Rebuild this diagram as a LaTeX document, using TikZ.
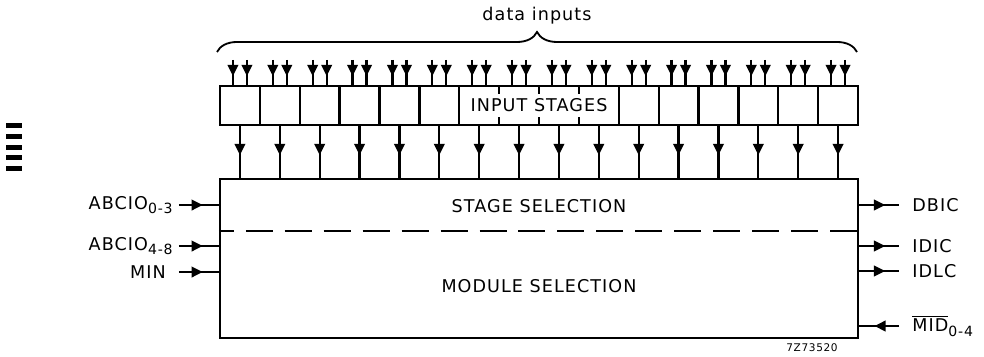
\documentclass[tikz,border=0pt]{standalone}
\usepackage{fontspec}
\setmainfont{DejaVu Sans}[LetterSpace=6]
\usetikzlibrary{arrows.meta,positioning,calc,decorations.markings,decorations.pathreplacing}
\newcommand{\lowsub}[1]{\raisebox{-0.5ex}{\fontsize{10}{11}\selectfont#1}}

\begin{document}
\begin{tikzpicture}[x=0.025cm,y=-0.025cm,>=Latex,line width=1.6pt]
  \tikzset{cell/.style={minimum width=0.997cm,minimum height=0.975cm,inner sep=0pt,outer sep=0pt},
    midarrow/.style={postaction={decorate},decoration={markings,
      mark=at position #1 with {\arrow{Triangle[length=8pt,width=7.5pt]}}}},
    lbl/.style={font=\fontsize{12.5}{14}\selectfont,inner sep=0pt}}
  \useasboundingbox (0,0) rectangle (984,356);
  % scan marks at the left margin
  \foreach \k in {0,...,4}
    \fill ({6},{123+10.8*\k}) rectangle ({22},{128+10.8*\k});
  % input stages
  \foreach \i in {1,...,16}
    \node[cell] (s\i) at ({220+39.875*(\i-0.5)},105.5) {};
  \foreach \i in {1,...,6,11,12,...,16}
    \draw (s\i.north west) rectangle (s\i.south east);
  \draw (s7.north west) rectangle (s10.south east);
  \foreach \i in {7,8,9} {
    \draw (s\i.north east) -- ++(0,8);
    \draw (s\i.south east) -- ++(0,-8);
  }
  \node[lbl,fill=white,inner sep=1pt] (stages) at (s8.east) {INPUT STAGES};
  % selection block
  \node[draw,minimum width=15.95cm,minimum height=3.975cm,inner sep=0pt] (sel) at (539,258.5) {};
  \coordinate (dl) at ($(sel.north west)+(0,53)$);
  \coordinate (dr) at ($(sel.north east)+(0,53)$);
  \draw[dash pattern=on 19.2pt off 8.5pt,dash phase=8.5pt] (dl) -- (dr);
  \node[lbl] (stagesel) at ($(sel.north)+(0,28)$) {STAGE SELECTION};
  \node[lbl] (modsel) at ($(sel.north)+(0,108)$) {MODULE SELECTION};
  % data inputs
  \foreach \i in {1,...,16} {
    \coordinate (ia\i) at ($(s\i.north)+(-7,-26)$);
    \coordinate (ib\i) at ($(s\i.north)+(7,-26)$);
    \draw[midarrow=0.62] (ia\i) -- (ia\i |- s\i.north);
    \draw[midarrow=0.62] (ib\i) -- (ib\i |- s\i.north);
    \draw[midarrow=0.57] (s\i.south) -- (s\i.south |- sel.north);
  }
  \coordinate (bl) at ($(s1.north west)+(-3,-34)$);
  \coordinate (br) at ($(s16.north east)+(-1,-34)$);
  \draw[line width=1.3pt,decorate,decoration={brace,amplitude=0.5cm}] (bl) -- (br);
  \node[lbl] (data) at ($(bl)!0.5!(br)+(0,-36)$) {data inputs};
  % left side
  \foreach \n/\y in {a/205,b/246,c/272} {
    \coordinate (p\n) at (sel.west |- 0,\y);
    \coordinate (q\n) at ($(p\n)+(-40,0)$);
    \draw[midarrow=0.6] (q\n) -- (p\n);
  }
  \node[lbl,anchor=east] (abc1) at ($(qa)+(-5,0)$) {ABCIO\lowsub{0-3}};
  \node[lbl,anchor=east] (abc2) at ($(qb)+(-5,0)$) {ABCIO\lowsub{4-8}};
  \node[lbl,anchor=east] (min) at ($(qc)+(-12,0)$) {MIN};
  % right side
  \foreach \n/\y in {a/205,b/246,c/271,d/326} {
    \coordinate (r\n) at (sel.east |- 0,\y);
    \coordinate (t\n) at ($(r\n)+(40,0)$);
  }
  \foreach \n in {a,b,c}
    \draw[midarrow=0.65] (r\n) -- (t\n);
  \draw[midarrow=0.62] (td) -- (rd);
  \node[lbl,anchor=west] (dbic) at ($(ta)+(12,0)$) {DBIC};
  \node[lbl,anchor=west] (idic) at ($(tb)+(12,0)$) {IDIC};
  \node[lbl,anchor=west] (idlc) at ($(tc)+(12,0)$) {IDLC};
  \node[lbl,anchor=west] (mid) at ($(td)+(12,0)$) {$\overline{\mbox{MID}}$\lowsub{0-4}};
  \node[font=\fontsize{7.5}{8}\selectfont,inner sep=0pt] (code) at (812,348) {7Z73520};
\end{tikzpicture}
\end{document}
